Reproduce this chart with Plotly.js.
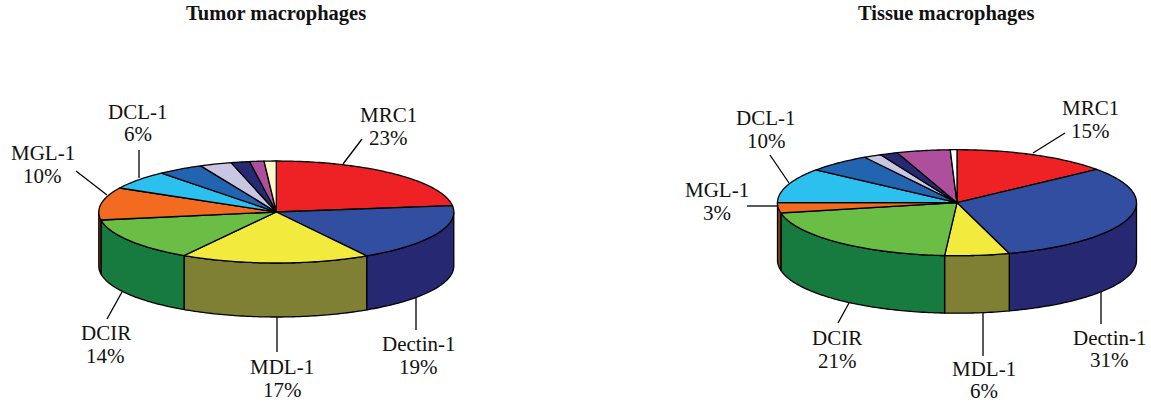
<!DOCTYPE html>
<html>
<head>
<meta charset="utf-8">
<script src="https://cdn.plot.ly/plotly-3.0.1.min.js"></script>
<style>html,body{margin:0;padding:0;background:#fff}#chart{width:1151px;height:402px}</style>
</head>
<body>
<div id="chart"></div>
<script>
// ---- data ----
var sliceNames = ["MRC1","Dectin-1","MDL-1","DCIR","MGL-1","DCL-1","Other 1","Other 2","Other 3","Other 4","Other 5"];
var tumorShares  = [23, 18.5, 17.2, 13.8, 10.3, 6, 4.2, 2.9, 1.7, 1.3, 1.1];
var tissueShares = [14.2, 31.1, 5.8, 20.8, 3.1, 10.6, 5.8, 1.6, 1.6, 4.8, 0.6];
var labelNames = ["MRC1","Dectin-1","MDL-1","DCIR","MGL-1","DCL-1"];
var tumorLabels  = ["23%","19%","17%","14%","10%","6%"];
var tissueLabels = ["15%","31%","6%","21%","3%","10%"];
var tumorTitle = "Tumor macrophages";
var tissueTitle = "Tissue macrophages";

// ---- styles and layout geometry ----
var topColors  = ["#ee2224","#324ea0","#f2ea3d","#6bbe45","#f36a21","#2cc0ef","#2264b0","#c8c6e3","#272a72","#ad4f9d","#fdf9cc"];
var tissueTopColors = topColors.slice(0,10).concat(["#ffffff"]);
var wallColors = ["#a81a1c","#262872","#7f8033","#177a3f","#8c3a14","#1e86a8","#17467b","#8c8a9f","#1b1d50","#79376e","#b1ae8f"];
var tumorGeo  = {cx:276.3, cy:212, rx:177.5, ry:51,   depth:54};
var tissueGeo = {cx:957,   cy:202.7, rx:179.5, ry:53, depth:57.5};
var tumorLabelPos = [[388,114.5,137.5],[418,343.5,366.5],[282,366.5,389.5],[105.7,332.5,355.5],[42.5,152.5,175.5],[138,111.5,133.5]];
var tissueLabelPos = [[1090,107.5,130.5],[1109,337.5,359.5],[984,368.5,390.5],[837,337.5,360.5],[717,189.5,212.5],[766,117.5,140.5]];
var tumorLeaders = [[343,164,362,139],[416,297,416,330],[277,317,277,352],[122,292,107,319],[107,195,76,171],[139,178,139,150]];
var tissueLeaders = [[1033,153,1065,133],[1101,292,1101,324],[983,313,983,356],[849,303,838,323],[778,206,747,206],[789,183,770,155]];

var traces = [];
function pt(g, deg, drop){
  var a = deg*Math.PI/180;
  return [g.cx + g.rx*Math.sin(a), g.cy - g.ry*Math.cos(a) + (drop||0)];
}
function addPoly(pts, fill, name){
  pts.push(pts[0]);
  traces.push({type:"scatter", mode:"lines", name:name, x:pts.map(function(p){return p[0];}), y:pts.map(function(p){return p[1];}),
    fill:"toself", fillcolor:fill, line:{color:"#000", width:1.3, simplify:false}, hoverinfo:"name", showlegend:false});
}
function arc(g, a0, a1, drop){
  var out=[], n=Math.max(2, Math.ceil(Math.abs(a1-a0)));
  for(var i=0;i<=n;i++) out.push(pt(g, a0+(a1-a0)*i/n, drop));
  return out;
}
function drawPie(g, shares, tops, leaders){
  leaders.forEach(function(l){
    traces.push({type:"scatter", mode:"lines", x:[l[0],l[2]], y:[l[1],l[3]], line:{color:"#000",width:1.3}, hoverinfo:"skip", showlegend:false});
  });
  var total = shares.reduce(function(s,v){return s+v;},0), run=0, spans=[];
  shares.forEach(function(v){ spans.push([run/total*360,(run+v)/total*360]); run+=v; });
  spans.forEach(function(s,i){
    var a0=Math.max(s[0],90), a1=Math.min(s[1],270);
    if(a1>a0){ addPoly(arc(g,a0,a1,0).concat(arc(g,a1,a0,g.depth)), wallColors[i], sliceNames[i]); }
  });
  spans.forEach(function(s,i){
    addPoly([[g.cx,g.cy]].concat(arc(g,s[0],s[1],0)), tops[i], sliceNames[i]);
  });
}
drawPie(tumorGeo, tumorShares, topColors, tumorLeaders);
drawPie(tissueGeo, tissueShares, tissueTopColors, tissueLeaders);

var annotations = [];
function txt(x,y,t,size,bold){
  annotations.push({x:x,y:y,xref:"x",yref:"y",text:bold?"<b>"+t+"</b>":t,showarrow:false,xanchor:"center",yanchor:"middle",
    font:{family:"Liberation Serif, serif",size:size,color:"#111"}});
}
function addLabels(pos, vals){
  pos.forEach(function(p,i){ txt(p[0],p[1],labelNames[i],21); txt(p[0],p[2],vals[i],21); });
}
addLabels(tumorLabelPos, tumorLabels);
addLabels(tissueLabelPos, tissueLabels);
txt(276,13.5,tumorTitle,20.5,true);
txt(946,13.5,tissueTitle,20.5,true);

Plotly.newPlot("chart", traces, {
  width:1151, height:402, margin:{l:0,r:0,t:0,b:0}, paper_bgcolor:"#fff", plot_bgcolor:"#fff",
  xaxis:{range:[0,1151], visible:false, fixedrange:true},
  yaxis:{range:[402,0], visible:false, fixedrange:true},
  annotations:annotations, showlegend:false
}, {displayModeBar:false, staticPlot:true});
</script>
</body>
</html>
